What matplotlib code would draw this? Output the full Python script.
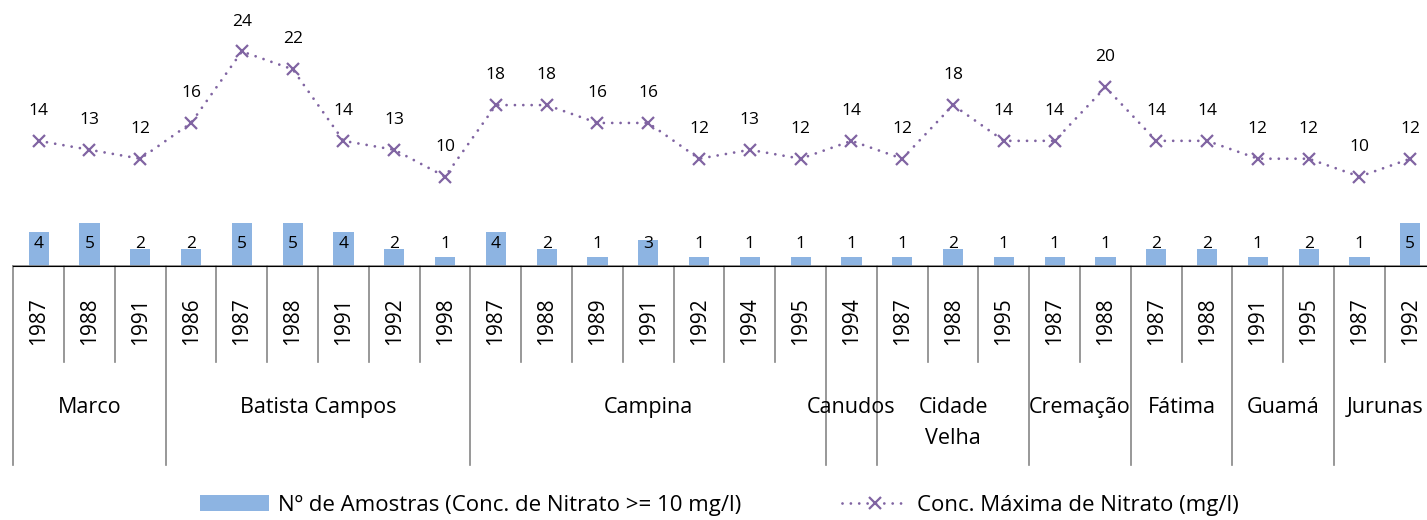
import matplotlib
matplotlib.use("Agg")
import matplotlib.pyplot as plt
import matplotlib.transforms as mtransforms
from matplotlib.patches import Patch
from matplotlib.lines import Line2D

plt.rcParams['font.family'] = ['Open Sans', 'DejaVu Sans']

# bairros e anos de coleta
bairros = ['Marco', 'Batista Campos', 'Campina', 'Canudos', 'Cidade\nVelha',
           'Cremação', 'Fátima', 'Guamá', 'Jurunas']
anos_por_bairro = [
    [1987, 1988, 1991],
    [1986, 1987, 1988, 1991, 1992, 1998],
    [1987, 1988, 1989, 1991, 1992, 1994, 1995],
    [1994],
    [1987, 1988, 1995],
    [1987, 1988],
    [1987, 1988],
    [1991, 1995],
    [1987, 1992],
]
n_amostras = [4, 5, 2, 2, 5, 5, 4, 2, 1, 4, 2, 1, 3, 1, 1, 1, 1, 1, 2, 1,
              1, 1, 2, 2, 1, 2, 1, 5]
conc_max = [14, 13, 12, 16, 24, 22, 14, 13, 10, 18, 18, 16, 16, 12, 13, 12,
            14, 12, 18, 14, 14, 20, 14, 14, 12, 12, 10, 12]

COR_BARRA = '#8DB4E2'
COR_LINHA = '#8064A2'
COR_EIXO = '#868686'
ESTILO_LINHA = dict(color=COR_LINHA, lw=2.0, linestyle=(0, (0.01, 3.0)),
                    dash_capstyle='round', marker='x', markersize=9,
                    markeredgewidth=1.6)

W, H = 1427, 520
fig = plt.figure(figsize=(W / 100, H / 100), dpi=100)

# eixo em pixels: base em y=266, 28 categorias de ~50.8 px (a última passa da borda)
ax_left, ax_bottom = 13.3, 266
cat_w = 50.8
n = len(n_amostras)
ax = fig.add_axes([ax_left / W, (H - ax_bottom) / H, n * cat_w / W, ax_bottom / H])
ax2 = ax.twinx()

x = list(range(n))
ax.bar(x, n_amostras, width=0.4, color=COR_BARRA, zorder=2)
ax.set_xlim(-0.5, n - 0.5)
ax.set_ylim(0, ax_bottom / 8.6)

for xi, v in zip(x, n_amostras):
    ax.text(xi, 2.55, str(v), ha='center', va='center', fontsize=12.5,
            color='black', zorder=3)

ax2.plot(x, conc_max, **ESTILO_LINHA)
ax2.set_ylim(0, ax_bottom / 8.94)
for xi, v in zip(x, conc_max):
    ax2.annotate(str(v), (xi, v), xytext=(0, 21.5), textcoords='offset points',
                 ha='center', va='center', fontsize=12.5)

for a in (ax, ax2):
    for s in ('top', 'left', 'right'):
        a.spines[s].set_visible(False)
    a.set_yticks([])
ax.spines['bottom'].set_color(COR_EIXO)
ax.spines['bottom'].set_linewidth(1.2)
ax.set_xticks([])

# rótulos de categoria em dois níveis abaixo do eixo
trans = mtransforms.blended_transform_factory(ax.transData, ax.transAxes)
px = 1.0 / ax_bottom
y_ano_fim = -(362 - ax_bottom) * px
y_grupo_fim = -(465 - ax_bottom) * px
y_ano_txt = -(321 - ax_bottom) * px
y_grupo_txt = -(413 - ax_bottom) * px
entre_linhas = 31 * px

i = 0
fronteiras = {-0.5}
for bairro, anos in zip(bairros, anos_por_bairro):
    for ano in anos:
        ax.text(i, y_ano_txt, str(ano), transform=trans, rotation=90,
                ha='center', va='center', fontsize=15)
        i += 1
    fronteiras.add(i - 0.5)
    centro = i - len(anos) / 2 - 0.5
    for k, linha in enumerate(bairro.split('\n')):
        ax.text(centro, y_grupo_txt - k * entre_linhas, linha, transform=trans,
                ha='center', va='baseline', fontsize=15.5)

for b in range(n + 1):
    xb = b - 0.5
    y_fim = y_grupo_fim if xb in fronteiras else y_ano_fim
    ax.plot([xb, xb], [0, y_fim], transform=trans, color=COR_EIXO, lw=1.2,
            clip_on=False)

# legenda: cada entrada posicionada separadamente
fs_leg = 16
fs_px = fs_leg * 100 / 72
entradas = [
    (Patch(facecolor=COR_BARRA, edgecolor='none'),
     'Nº de Amostras (Conc. de Nitrato >= 10 mg/l)', 200, 69),
    (Line2D([], [], **ESTILO_LINHA), 'Conc. Máxima de Nitrato (mg/l)', 842, 66),
]
for handle, rotulo, x0, largura in entradas:
    fig.legend([handle], [rotulo], loc='center left',
               bbox_to_anchor=(x0 / W, 1 - 505 / H), frameon=False,
               fontsize=fs_leg, handlelength=largura / fs_px,
               handleheight=16 / fs_px, handletextpad=9 / fs_px,
               borderpad=0, borderaxespad=0)

fig.savefig('out.png', dpi=100)
